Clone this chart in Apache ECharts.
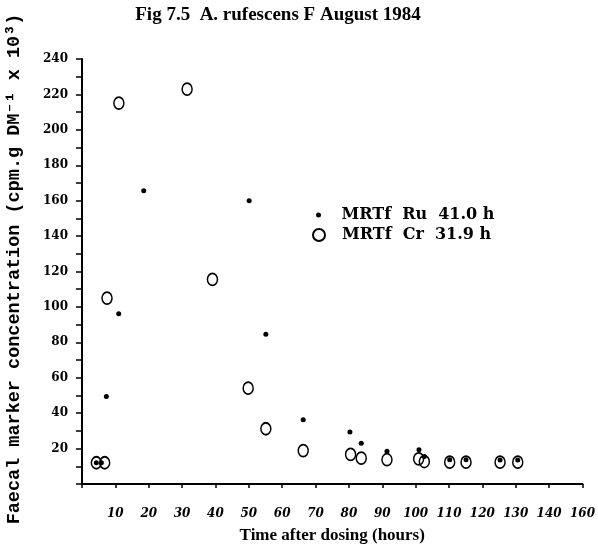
<!DOCTYPE html>
<html>
<head>
<meta charset="utf-8">
<script src="https://cdn.jsdelivr.net/npm/echarts@6/dist/echarts.min.js"></script>
<style>
html,body{margin:0;padding:0;background:#fff;}
#c{width:598px;height:552px;}
</style>
</head>
<body>
<div id="c"></div>
<script>
// ---- data ----
var titleText = 'Fig 7.5  A. rufescens F August 1984';
var xName = 'Time after dosing (hours)';
var yName = 'Faecal marker concentration (cpm.g DM\u207B\u00B9 x 10\u00B3)';
var ruName = 'MRTf  Ru  41.0 h';
var crName = 'MRTf  Cr  31.9 h';
var xTickLabels = ['', '10', '20', '30', '40', '50', '60', '70', '80', '90', '100', '110', '120', '130', '140', '160'];
var yTickLabels = ['20', '40', '60', '80', '100', '120', '140', '160', '180', '200', '220', '240'];
var ruTime = [4.3, 5.8, 7.3, 11, 18.5, 50.1, 55.1, 66.3, 80.3, 83.7, 91.4, 101, 102.6, 110.2, 115.1, 125.3, 130.6];
var ruConc = [12, 12, 49.4, 96.2, 165.6, 160, 84.5, 36.3, 29.3, 23, 18.5, 19.3, 15.5, 13.7, 13.7, 13.5, 13.5];
var crTime = [4.3, 6.8, 7.5, 11.05, 31.5, 39.1, 49.8, 55.1, 66.3, 80.5, 83.7, 91.4, 100.9, 102.6, 110.2, 115.1, 125.3, 130.6];
var crConc = [12, 12, 105, 215.1, 223, 115.5, 54.1, 31.2, 18.9, 16.7, 14.6, 13.7, 14.2, 12.7, 12.3, 12.3, 12.3, 12.3];

function pairs(xs, ys) { return xs.map(function (x, i) { return [x, ys[i]]; }); }

var chart = echarts.init(document.getElementById('c'), null, {renderer: 'canvas'});
var serif = '"DejaVu Serif", serif';
var option = {
  backgroundColor: '#fff',
  animation: false,
  title: {
    text: titleText, left: 273, top: 1, textAlign: 'center',
    textStyle: {fontFamily: '"Liberation Serif", serif', fontWeight: 'bold', fontSize: 19, color: '#000'}
  },
  graphic: [{
    type: 'text', x: 14, y: 269, rotation: Math.PI / 2,
    style: {text: yName, fontFamily: '"Liberation Mono", monospace', fontWeight: 'bold', fontSize: 18.5,
      fill: '#000', textAlign: 'center', textVerticalAlign: 'middle'}
  }],
  legend: [{
    data: [ruName], orient: 'vertical', left: 311, top: 202,
    itemWidth: 36, itemHeight: 5, symbolKeepAspect: true,
    textStyle: {fontFamily: serif, fontWeight: 'bold', fontSize: 16, color: '#000'}
  }, {
    data: [crName], orient: 'vertical', left: 307, top: 222,
    itemWidth: 36, itemHeight: 12, symbolKeepAspect: true,
    textStyle: {fontFamily: serif, fontWeight: 'bold', fontSize: 16, color: '#000'}
  }],
  grid: {left: 82, right: 14, top: 59, bottom: 68, containLabel: false},
  xAxis: {
    type: 'value', min: 0, max: 150, interval: 10, offset: 10,
    name: xName, nameLocation: 'middle', nameGap: 33,
    nameTextStyle: {fontFamily: '"Liberation Serif", serif', fontWeight: 'bold', fontSize: 17, color: '#000'},
    axisLine: {show: true, lineStyle: {color: '#000', width: 2}},
    axisTick: {show: true, length: 4, lineStyle: {color: '#000', width: 1.5}},
    splitLine: {show: false},
    axisLabel: {
      margin: 14, color: '#000', fontFamily: serif, fontWeight: 'bold', fontStyle: 'italic', fontSize: 12,
      showMinLabel: true, showMaxLabel: true,
      formatter: function (v) { return xTickLabels[Math.round(v / 10)] || ''; }
    }
  },
  yAxis: {
    type: 'value', min: 0, max: 240, interval: 10,
    axisLine: {show: true, lineStyle: {color: '#000', width: 2}},
    axisTick: {show: true, length: 6, lineStyle: {color: '#000', width: 1.5}},
    splitLine: {show: false},
    axisLabel: {
      margin: 14, color: '#000', fontFamily: serif, fontWeight: 'bold', fontSize: 12,
      showMinLabel: true, showMaxLabel: true,
      formatter: function (v) {
        var i = Math.round(v / 20) - 1;
        return (v % 20 === 0 && i >= 0) ? yTickLabels[i] : '';
      }
    }
  },
  series: [{
    name: ruName, type: 'scatter', data: pairs(ruTime, ruConc),
    symbol: 'circle', symbolSize: 5, z: 3,
    itemStyle: {color: '#000', opacity: 1}
  }, {
    name: crName, type: 'scatter', data: pairs(crTime, crConc),
    symbol: 'circle', symbolSize: [10, 12], z: 2,
    itemStyle: {color: 'rgba(255,255,255,0)', borderColor: '#000', borderWidth: 1.6, opacity: 1}
  }]
};
chart.setOption(option);
</script>
</body>
</html>
